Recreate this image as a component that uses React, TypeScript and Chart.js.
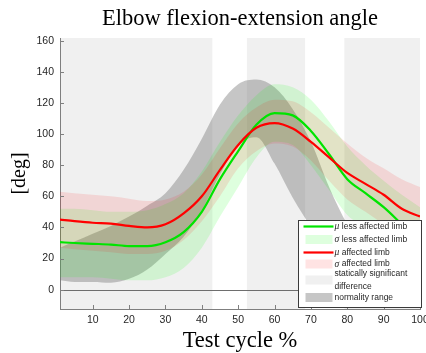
import React, { useEffect, useRef } from 'react';
import { Chart, registerables } from 'chart.js';

Chart.register(...registerables);

// ---- data ----
const cycle = [1, 5, 10, 15, 20, 25, 30, 35, 40, 45, 50, 55, 60, 65, 70, 75, 80, 85, 90, 95, 100];
const lessAffectedMean = [30.5, 30, 29.5, 29, 28, 28, 30.5, 37, 50, 71, 89, 106, 113.5, 112, 102, 87, 71, 62, 53, 42, 31];
const lessAffectedUpper = [52, 52, 51, 50, 50, 51, 55, 62, 76, 95, 112, 125, 132, 130, 122, 108, 92, 80, 70, 61, 53];
const lessAffectedLower = [8, 8, 8, 7, 6, 6, 8, 14, 27, 47, 66, 85, 95, 93, 80, 64, 48, 40, 32, 22, 10];
const affectedMean = [45, 44, 43, 42.5, 41, 40, 42, 49, 60, 77, 93, 104, 107, 103.5, 95, 85, 75, 68, 61, 52, 47];
const affectedUpper = [63, 62, 61, 60, 58.5, 57, 58, 63, 74, 91, 107, 117, 122, 121, 114, 104, 94, 85, 78, 71, 66];
const affectedLower = [27, 26, 25, 24, 23, 23, 25, 32, 44, 60, 78, 89, 94, 92, 83, 70, 58, 50, 42, 34, 28];
const normalUpper = [27, 31, 36, 41, 47, 54, 62, 77, 97, 119, 132, 135, 130, 116, 95, 66, 42, 25, 12, 5, 3];
const normalLower = [6, 5, 5, 4.5, 7, 13, 23, 34, 51, 74, 93, 98, 81, 59, 40, 20, 5, -3, -6, -8, -8];
const sigStart = [1, 52.4, 79.2];
const sigEnd = [42.9, 68.4, 100];
const xTicks = [10, 20, 30, 40, 50, 60, 70, 80, 90, 100];
const yTicks = [0, 20, 40, 60, 80, 100, 120, 140, 160];
const titleText = 'Elbow flexion-extension angle';
const xTitle = 'Test cycle %';
const yTitle = '[deg]';
const legendSymbols = ['μ', 'σ', 'μ', 'σ', '', ''];
const legendLabels = [
  'less affected limb',
  'less affected limb',
  'affected limb',
  'affected limb',
  'statically significant|difference',
  'normality range',
];

// ---- styles ----
const SERIF = '"Liberation Serif", "Times New Roman", serif';
const SANS = '"Liberation Sans", Arial, sans-serif';
const GREEN_LINE = 'rgb(0,228,0)';
const GREEN_FILL = 'rgba(0,255,0,0.13)';
const RED_LINE = 'rgb(255,0,0)';
const RED_FILL = 'rgba(255,0,0,0.11)';
const SIG_FILL = '#f0f0f0';
const NORM_FILL = 'rgba(120,120,120,0.42)';
const AXIS = '#7f7f7f';
const TEXT = '#262626';

const pts = (ys: number[]) => cycle.map((x, i) => ({ x, y: ys[i] }));

const band = (ys: number[], color: string, fill: any, order: number) => ({
  data: pts(ys),
  borderWidth: 0,
  borderColor: 'rgba(0,0,0,0)',
  backgroundColor: color,
  fill,
  pointRadius: 0,
  cubicInterpolationMode: 'monotone' as const,
  order,
});

const line = (ys: number[], color: string, order: number) => ({
  data: pts(ys),
  borderWidth: 2.2,
  borderColor: color,
  backgroundColor: color,
  fill: false,
  pointRadius: 0,
  cubicInterpolationMode: 'monotone' as const,
  order,
});

const decorations = {
  id: 'decorations',
  beforeDraw(chart: any) {
    const { ctx, chartArea: a, scales } = chart;
    const x = scales.x;
    ctx.save();
    ctx.fillStyle = SIG_FILL;
    sigStart.forEach((s, i) => {
      const x0 = x.getPixelForValue(s);
      const x1 = x.getPixelForValue(sigEnd[i]);
      ctx.fillRect(x0, a.top, x1 - x0, a.bottom - a.top);
    });
    ctx.restore();
  },
  afterDatasetsDraw(chart: any) {
    const { ctx, chartArea: a, scales } = chart;
    const { x, y } = scales;
    ctx.save();
    // zero line
    const y0 = Math.round(y.getPixelForValue(0)) + 0.5;
    ctx.strokeStyle = '#6e6e6e';
    ctx.lineWidth = 1;
    ctx.beginPath();
    ctx.moveTo(a.left, y0);
    ctx.lineTo(a.right, y0);
    ctx.stroke();
    // inward ticks
    ctx.strokeStyle = AXIS;
    ctx.beginPath();
    xTicks.forEach((v) => {
      const px = Math.round(x.getPixelForValue(v)) + 0.5;
      ctx.moveTo(px, a.bottom);
      ctx.lineTo(px, a.bottom - 4);
    });
    yTicks.forEach((v) => {
      const py = Math.round(y.getPixelForValue(v)) + 0.5;
      ctx.moveTo(a.left, py);
      ctx.lineTo(a.left + 4, py);
    });
    ctx.stroke();
    ctx.restore();
  },
  afterDraw(chart: any) {
    const { ctx, chartArea: a } = chart;
    const L = Math.round(a.right - 122) + 0.5;
    const T = Math.round(a.bottom - 89) + 0.5;
    const W = 123;
    const H = 87;
    ctx.save();
    ctx.fillStyle = '#ffffff';
    ctx.fillRect(L, T, W, H);
    ctx.strokeStyle = '#3a3a3a';
    ctx.lineWidth = 1;
    ctx.strokeRect(L, T, W, H);

    const rowY = [6, 19, 32, 43.5, 59.5, 77];
    const kinds = ['line', 'patch', 'line', 'patch', 'patch', 'patch'];
    const colors = [GREEN_LINE, GREEN_FILL, RED_LINE, RED_FILL, SIG_FILL, NORM_FILL];
    const tx = L + 36;
    ctx.textBaseline = 'middle';
    rowY.forEach((ry, i) => {
      const cy = T + ry;
      if (kinds[i] === 'line') {
        ctx.strokeStyle = colors[i];
        ctx.lineWidth = 2.2;
        ctx.beginPath();
        ctx.moveTo(L + 5, cy);
        ctx.lineTo(L + 35, cy);
        ctx.stroke();
      } else {
        ctx.fillStyle = colors[i];
        ctx.fillRect(L + 7, cy - 4.5, 27, 9);
      }
      ctx.fillStyle = TEXT;
      const sym = legendSymbols[i];
      const parts = legendLabels[i].split('|');
      if (parts.length === 1) {
        let x0 = tx;
        if (sym) {
          ctx.font = `italic 9.5px ${SERIF}`;
          ctx.fillText(sym, x0, cy);
          x0 += ctx.measureText(sym).width + 2.5;
        }
        ctx.font = `8.5px ${SANS}`;
        ctx.fillText(parts[0], x0, cy);
      } else {
        ctx.font = `8.5px ${SANS}`;
        ctx.fillText(parts[0], tx, cy - 6.5);
        ctx.fillText(parts[1], tx, cy + 6.5);
      }
    });
    ctx.restore();
  },
};

export default function App() {
  const ref = useRef<HTMLCanvasElement>(null);
  useEffect(() => {
    const chart = new Chart(ref.current as HTMLCanvasElement, {
      type: 'line',
      data: {
        datasets: [
          band(normalUpper, NORM_FILL, '+1', 8),
          band(normalLower, 'rgba(0,0,0,0)', false, 7),
          band(lessAffectedUpper, GREEN_FILL, '+1', 6),
          band(lessAffectedLower, 'rgba(0,0,0,0)', false, 5),
          band(affectedUpper, RED_FILL, '+1', 4),
          band(affectedLower, 'rgba(0,0,0,0)', false, 3),
          line(lessAffectedMean, GREEN_LINE, 2),
          line(affectedMean, RED_LINE, 1),
        ] as any,
      },
      options: {
        responsive: false,
        animation: false,
        devicePixelRatio: 1,
        events: [],
        layout: { padding: { left: 0, right: 6, top: 0, bottom: 0 } },
        plugins: {
          legend: { display: false },
          tooltip: { enabled: false },
          title: {
            display: true,
            text: titleText,
            fullSize: false,
            color: '#000',
            font: { family: SERIF, size: 22.5, weight: 'normal', lineHeight: 1.2 },
            padding: { top: 6, bottom: 5 },
          },
        },
        scales: {
          x: {
            type: 'linear',
            min: 1,
            max: 100,
            grid: { display: false, drawTicks: false },
            border: { display: true, color: AXIS, width: 1 },
            ticks: {
              font: { family: SANS, size: 10.5 },
              color: TEXT,
              padding: 5,
              maxRotation: 0,
              autoSkip: false,
            },
            title: {
              display: true,
              text: xTitle,
              color: '#000',
              font: { family: SERIF, size: 22.5, lineHeight: 1 },
              padding: { top: 0, bottom: 1 },
            },
            afterBuildTicks: (s: any) => {
              s.ticks = xTicks.map((v) => ({ value: v }));
            },
            afterFit: (s: any) => {
              s.height = 44;
              s.paddingLeft = 0;
              s.paddingRight = 0;
            },
          },
          y: {
            type: 'linear',
            min: -12.4,
            max: 161.7,
            grid: { display: false, drawTicks: false },
            border: { display: true, color: AXIS, width: 1 },
            ticks: {
              font: { family: SANS, size: 10.5 },
              color: TEXT,
              padding: 6,
              autoSkip: false,
            },
            title: {
              display: true,
              text: yTitle,
              color: '#000',
              font: { family: SERIF, size: 20, lineHeight: 1.2 },
              padding: { top: 8, bottom: 0 },
            },
            afterBuildTicks: (s: any) => {
              s.ticks = yTicks.map((v) => ({ value: v }));
            },
            afterFit: (s: any) => {
              s.width = 60;
              s.paddingTop = 0;
              s.paddingBottom = 0;
            },
          },
        },
      } as any,
      plugins: [decorations],
    });
    return () => chart.destroy();
  }, []);

  return (
    <div style={{ position: 'absolute', left: 0, top: 0, width: 426, height: 353, background: '#fff' }}>
      <canvas ref={ref} width={426} height={353} style={{ display: 'block', width: 426, height: 353 }} />
    </div>
  );
}
